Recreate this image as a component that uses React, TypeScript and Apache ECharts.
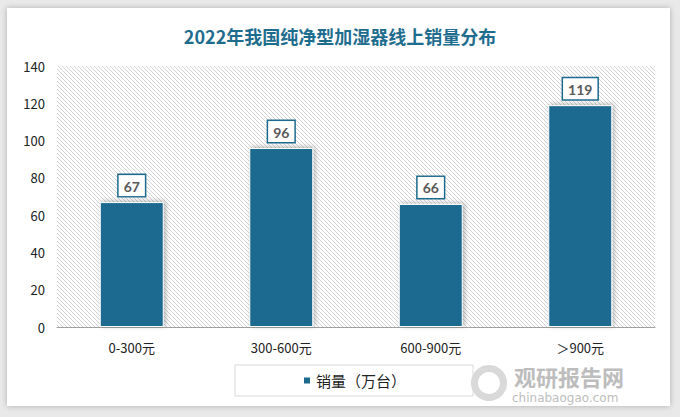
import React, { useEffect, useRef } from "react";
import * as echarts from "echarts";

const categories = ["0-300元", "300-600元", "600-900元", "＞900元"];
const sales = [67, 96, 66, 119];
const seriesName = "销量（万台）";
const titleText = "2022年我国纯净型加湿器线上销量分布";

function makeHatch(): string {
  const c = document.createElement("canvas");
  c.width = 4;
  c.height = 4;
  const ctx = c.getContext("2d")!;
  ctx.fillStyle = "#ffffff";
  ctx.fillRect(0, 0, 4, 4);
  ctx.strokeStyle = "#d4d4d4";
  ctx.lineWidth = 1;
  ctx.beginPath();
  ctx.moveTo(-1, -1);
  ctx.lineTo(5, 5);
  ctx.moveTo(-1, 3);
  ctx.lineTo(1, 5);
  ctx.moveTo(3, -1);
  ctx.lineTo(5, 1);
  ctx.stroke();
  return c.toDataURL();
}

export default function App() {
  const ref = useRef<HTMLDivElement>(null);
  useEffect(() => {
    if (!ref.current) return;
    const chart = echarts.init(ref.current, undefined, { renderer: "svg" });
    const barColor = "#1c6b8f";
    chart.setOption({
      animation: false,
      title: {
        text: titleText,
        left: "center",
        top: 22,
        textStyle: {
          fontFamily: "Noto Sans CJK SC",
          fontSize: 18,
          fontWeight: "bold",
          color: "#1f6d8e",
        },
      },
      grid: {
        left: 57,
        right: 25,
        top: 66,
        bottom: 90,
        show: true,
        borderWidth: 0,
        backgroundColor: { image: makeHatch(), repeat: "repeat" },
      },
      legend: {
        show: true,
        left: 235,
        top: 365,
        itemWidth: 8,
        itemHeight: 8,
        itemGap: 5,
        padding: [8, 67, 8, 67],
        borderColor: "#d9d9d9",
        borderWidth: 1,
        icon: "rect",
        textStyle: {
          fontFamily: "Noto Sans CJK SC",
          fontSize: 15,
          color: "#222",
        },
        data: [seriesName],
      },
      xAxis: {
        type: "category",
        data: categories,
        axisLine: { lineStyle: { color: "#a0a0a0", width: 1 } },
        axisTick: { show: false },
        axisLabel: {
          fontFamily: "Noto Sans CJK SC",
          fontSize: 13,
          color: "#222",
          margin: 14,
        },
      },
      yAxis: {
        type: "value",
        min: 0,
        max: 140,
        interval: 20,
        axisLine: { show: false },
        axisTick: { show: false },
        splitLine: { show: false },
        axisLabel: {
          fontFamily: "Noto Sans CJK SC",
          fontSize: 13,
          color: "#222",
          margin: 12,
        },
      },
      series: [
        {
          name: seriesName,
          type: "bar",
          data: sales,
          barWidth: 64,
          itemStyle: {
            color: barColor,
            borderColor: "#ffffff",
            borderWidth: 1,
            shadowBlur: 5,
            shadowColor: "rgba(0,0,0,0.28)",
            shadowOffsetX: 2,
            shadowOffsetY: -1,
          },
          label: {
            show: true,
            position: "top",
            distance: 6,
            fontFamily: "Lato",
            fontSize: 14,
            fontWeight: "bold",
            color: "#595959",
            backgroundColor: "#ffffff",
            borderColor: barColor,
            borderWidth: 1.5,
            padding: [4, 5, 3, 5],
          },
        },
      ],
      graphic: [
        {
          type: "ring",
          shape: { cx: 489, cy: 383, r: 18, r0: 11 },
          style: { fill: "#d9d9d9" },
          silent: true,
        },
        {
          type: "text",
          left: 514,
          top: 365,
          style: {
            text: "观研报告网",
            fontFamily: "Noto Sans CJK SC",
            fontSize: 22,
            lineHeight: 22,
            fontWeight: "bold",
            fill: "#bdbdbd",
          },
          silent: true,
        },
        {
          type: "text",
          left: 512,
          top: 392,
          style: {
            text: "chinabaogao.com",
            fontFamily: "DejaVu Sans",
            fontSize: 12,
            lineHeight: 12,
            fill: "#bdbdbd",
          },
          silent: true,
        },
      ],
    });
    return () => chart.dispose();
  }, []);
  return (
    <div
      style={{
        position: "absolute",
        left: 0,
        top: 0,
        width: 680,
        height: 417,
        background: "#e9e9e9",
      }}
    >
      <div
        style={{
          position: "absolute",
          left: 7,
          top: 8,
          width: 663,
          height: 398,
          background: "#ffffff",
          boxShadow: "0 0 6px rgba(0,0,0,0.25)",
        }}
      />
      <div
        ref={ref}
        style={{ position: "absolute", left: 0, top: 0, width: 680, height: 417 }}
      />
    </div>
  );
}
